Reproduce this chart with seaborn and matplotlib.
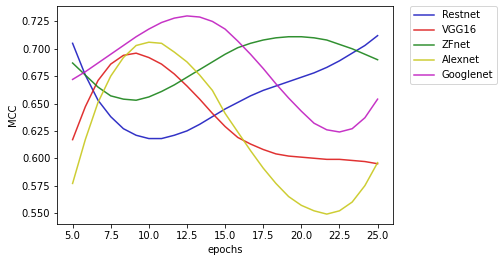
import numpy as np
import pandas as pd
import seaborn as sns
import matplotlib
matplotlib.use('Agg')
import matplotlib.pyplot as plt

# epochs (25 points between 5 and 25)
epochs = [5.0, 5.833, 6.667, 7.5, 8.333, 9.167, 10.0, 10.833, 11.667, 12.5,
          13.333, 14.167, 15.0, 15.833, 16.667, 17.5, 18.333, 19.167, 20.0,
          20.833, 21.667, 22.5, 23.333, 24.167, 25.0]

restnet = [0.705, 0.676, 0.653, 0.638, 0.627, 0.621, 0.618, 0.618, 0.621, 0.625,
           0.631, 0.638, 0.645, 0.651, 0.657, 0.662, 0.666, 0.670, 0.674,
           0.678, 0.683, 0.689, 0.696, 0.703, 0.712]
vgg16 = [0.617, 0.647, 0.671, 0.686, 0.694, 0.696, 0.692, 0.686, 0.677, 0.666,
         0.654, 0.641, 0.629, 0.619, 0.613, 0.608, 0.604, 0.602, 0.601,
         0.600, 0.599, 0.599, 0.598, 0.597, 0.595]
zfnet = [0.687, 0.676, 0.665, 0.657, 0.654, 0.653, 0.656, 0.661, 0.667, 0.674,
         0.681, 0.688, 0.695, 0.701, 0.705, 0.708, 0.710, 0.711, 0.711,
         0.710, 0.708, 0.704, 0.700, 0.695, 0.690]
alexnet = [0.577, 0.617, 0.651, 0.675, 0.692, 0.703, 0.706, 0.705, 0.697, 0.688,
           0.676, 0.662, 0.641, 0.624, 0.607, 0.591, 0.577, 0.565, 0.557,
           0.552, 0.549, 0.552, 0.560, 0.575, 0.596]
googlenet = [0.672, 0.679, 0.687, 0.695, 0.703, 0.711, 0.718, 0.724, 0.728, 0.730,
             0.729, 0.725, 0.718, 0.707, 0.695, 0.682, 0.668, 0.655, 0.643,
             0.632, 0.626, 0.624, 0.627, 0.637, 0.654]

modeles = ['Restnet', 'VGG16', 'ZFnet', 'Alexnet', 'Googlenet']
series = [restnet, vgg16, zfnet, alexnet, googlenet]
couleurs = {'Restnet': '#1c1cc0', 'VGG16': '#dd1c1c', 'ZFnet': '#1a841a',
            'Alexnet': '#c8c81e', 'Googlenet': '#c01ec0'}

# Je construis un tableau long pour seaborn
donnees = pd.concat([
    pd.DataFrame({'epochs': epochs, 'MCC': vals, 'modele': nom})
    for nom, vals in zip(modeles, series)
], ignore_index=True)

fig = plt.figure(figsize=(503 / 72, 262 / 72), dpi=72)
ax = fig.add_axes([0.114, 0.145, 0.667, 0.832])

sns.lineplot(data=donnees, x='epochs', y='MCC', hue='modele', palette=couleurs,
             alpha=0.9, linewidth=1.5, ax=ax)

handles, labels = ax.get_legend_handles_labels()
ax.legend(handles, labels, bbox_to_anchor=(1.05, 1), loc='upper left',
          borderaxespad=0)
ax.set_xlabel('epochs')
ax.set_ylabel('MCC')

fig.savefig('out.png', dpi=72)
